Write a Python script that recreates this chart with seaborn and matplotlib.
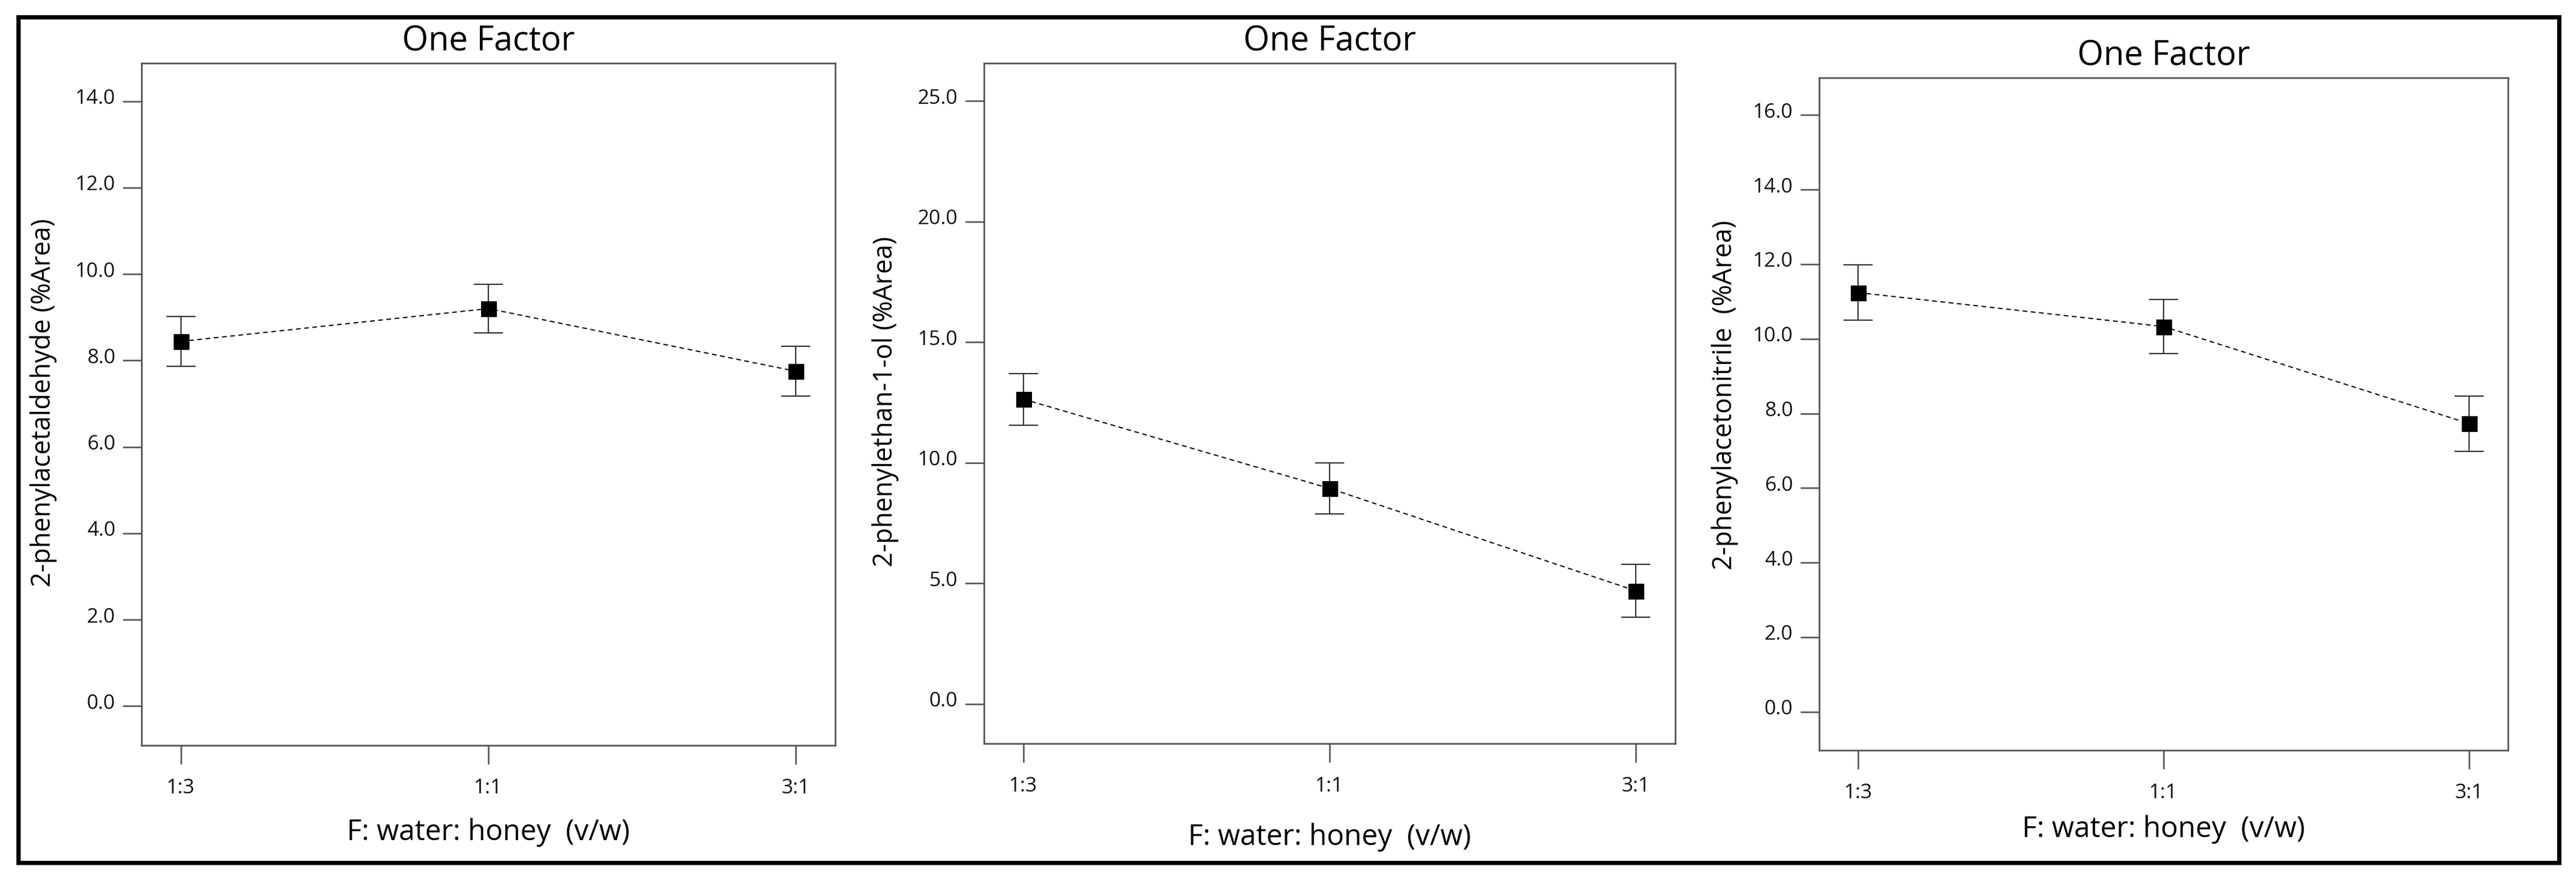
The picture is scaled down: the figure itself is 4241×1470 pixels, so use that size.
import matplotlib
matplotlib.use("Agg")
import matplotlib.pyplot as plt
import matplotlib.transforms as mtransforms
from matplotlib.patches import Rectangle
import numpy as np
import pandas as pd
import seaborn as sns

# data
ratio_labels = ["1:3", "1:1", "3:1"]

aldehyde = [8.44, 9.20, 7.75]
aldehyde_err = [0.57, 0.56, 0.58]

ethanol = [12.64, 8.94, 4.69]
ethanol_err = [1.07, 1.05, 1.10]

nitrile = [11.24, 10.33, 7.73]
nitrile_err = [0.74, 0.72, 0.74]

panel_titles = ["One Factor", "One Factor", "One Factor"]
y_labels = ["2-phenylacetaldehyde (%Area)",
            "2-phenylethan-1-ol (%Area)",
            "2-phenylacetonitrile  (%Area)"]
x_label = "F: water: honey  (v/w)"

sns.set_theme(style="white")
plt.rcParams["font.family"] = ["Open Sans", "DejaVu Sans"]

W, H, DPI = 4241, 1470, 100
fig = plt.figure(figsize=(W / DPI, H / DPI), dpi=DPI)

# (left, bottom, width, height) in figure fraction
boxes = [
    (233 / W, 1 - 1227 / H, 1142 / W, 1123 / H),
    (1620 / W, 1 - 1224 / H, 1138 / W, 1120 / H),
    (2995 / W, 1 - 1235 / H, 1134 / W, 1107 / H),
]
panels = [
    (aldehyde, aldehyde_err, np.arange(0, 14.1, 2), (-0.91, 14.88)),
    (ethanol, ethanol_err, np.arange(0, 25.1, 5), (-1.64, 26.57)),
    (nitrile, nitrile_err, np.arange(0, 16.1, 2), (-1.03, 17.0)),
]
ylabel_pos = [(-0.141, 0.502), (-0.143, 0.503), (-0.137, 0.528)]
xlabel_pos = [-0.128, -0.1375, -0.118]

spine_col = "#505050"
xpos = np.arange(len(ratio_labels))

for i, (vals, errs, yticks, ylim) in enumerate(panels):
    ax = fig.add_axes(boxes[i])
    df = pd.DataFrame({"x": xpos, "y": vals})

    ax.errorbar(df["x"], df["y"], yerr=errs, fmt="none", ecolor="#333333",
                elinewidth=1.5, capsize=17, capthick=1.5, zorder=2)
    sns.lineplot(data=df, x="x", y="y", ax=ax, color="black",
                 linestyle=(0, (4, 3)), linewidth=1.4,
                 marker="s", markersize=18, markeredgecolor="black",
                 markerfacecolor="black", zorder=3)

    ax.set_xlim(-0.128, 2.128)
    ax.set_ylim(*ylim)
    ax.set_xticks(xpos)
    ax.set_xticklabels(ratio_labels)
    ax.set_yticks(yticks)
    ax.set_yticklabels([f"{t:.1f}" for t in yticks])

    for s in ax.spines.values():
        s.set_color(spine_col)
        s.set_linewidth(1.9)

    ax.tick_params(axis="both", which="major", direction="out", length=22,
                   width=1.8, color=spine_col, labelsize=24, labelcolor="#111111",
                   left=True, bottom=True)
    ax.tick_params(axis="y", pad=9)
    ax.tick_params(axis="x", pad=17)

    # y tick labels sit a little above their tick
    shift = mtransforms.ScaledTranslation(0, 8 / DPI, fig.dpi_scale_trans)
    for lab in ax.get_yticklabels():
        lab.set_transform(lab.get_transform() + shift)

    ax.set_title(panel_titles[i], fontsize=40, pad=15, color="black")

    ax.set_ylabel(y_labels[i], fontsize=31, color="black")
    ax.yaxis.set_label_coords(*ylabel_pos[i])
    ax.yaxis.label.set_va("center")

    ax.set_xlabel(x_label, fontsize=34, color="black")
    ax.xaxis.set_label_coords(0.5, xlabel_pos[i])
    ax.xaxis.label.set_va("center")

# thick outer frame around the whole figure
fig.add_artist(Rectangle((30 / W, 1 - 1420 / H), (4213 - 30) / W, (1420 - 28) / H,
                         transform=fig.transFigure, fill=False,
                         edgecolor="black", linewidth=5))

fig.savefig("out.png", dpi=DPI)
